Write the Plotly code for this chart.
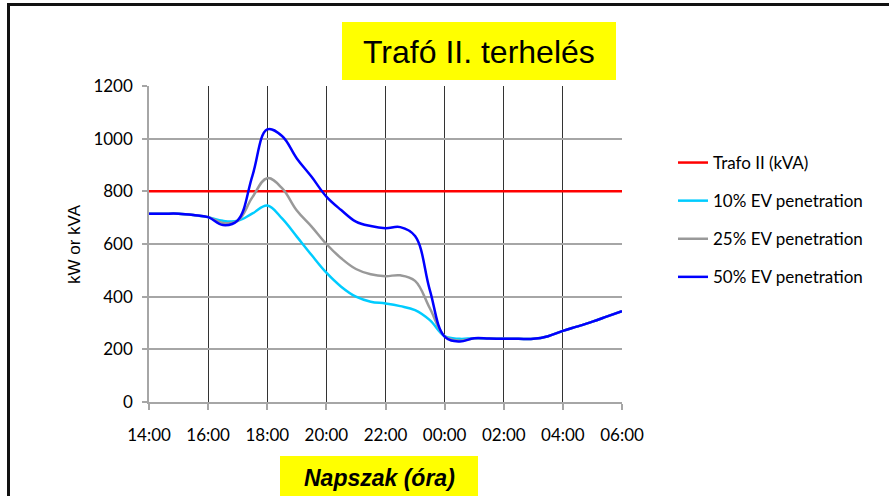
import plotly.graph_objects as go

# Time of day in hours from 14:00 (values past 24 belong to the next morning)
hours = [14.0, 14.5, 15.0, 15.5, 16.0, 16.5, 17.0, 17.5, 18.0, 18.5, 19.0,
         19.5, 20.0, 20.5, 21.0, 21.5, 22.0, 22.5, 23.0, 23.5, 24.0, 24.5,
         25.0, 25.5, 26.0, 26.5, 27.0, 27.5, 28.0, 28.5, 29.0, 29.5, 30.0]

tick_hours = [14, 16, 18, 20, 22, 24, 26, 28, 30]
tick_labels = ["14:00", "16:00", "18:00", "20:00", "22:00",
               "00:00", "02:00", "04:00", "06:00"]

# Transformer rating (kVA)
trafo_hours = [14.0, 30.0]
trafo_kva = [800, 800]

# Load for different EV penetration levels (kW)
ev10 = [715, 715, 715, 710, 702, 688, 688, 716, 746, 697, 628,
        558, 491, 438, 400, 381, 374, 364, 349, 311, 250, 240,
        242, 241, 240, 240, 240, 250, 270, 287, 305, 325, 345]
ev25 = [715, 715, 715, 710, 702, 680, 688, 778, 850, 812, 727,
        666, 600, 546, 505, 485, 478, 481, 460, 356, 250, 233,
        242, 241, 240, 240, 240, 250, 270, 287, 305, 325, 345]
ev50 = [715, 715, 715, 710, 702, 672, 690, 860, 1035, 1010, 925,
        855, 780, 729, 685, 668, 660, 664, 630, 425, 248, 230,
        242, 241, 240, 240, 240, 250, 270, 287, 305, 325, 345]

W, H = 889, 496
L, R, T, B = 149, 267, 86, 94
PW, PH = W - L - R, H - T - B


def px(x):
    return (x - L) / PW


def py(y):
    return (H - B - y) / PH


fig = go.Figure()

series = [
    ("Trafo II (kVA)", trafo_hours, trafo_kva, "#ff0000", "linear"),
    ("10% EV penetration", hours, ev10, "#00ccff", "spline"),
    ("25% EV penetration", hours, ev25, "#999999", "spline"),
    ("50% EV penetration", hours, ev50, "#0000ff", "spline"),
]
for i, (name, xs, ys, color, shape) in enumerate(series):
    fig.add_trace(go.Scatter(
        x=xs, y=ys, name=name, mode="lines",
        line=dict(color=color, width=2.5, shape=shape, smoothing=1.1),
        legendgroup=f"g{i}",
    ))

tick_font = dict(family="Lato, sans-serif", size=17, color="#000000")

fig.update_xaxes(
    range=[14, 30], tickvals=tick_hours, ticktext=tick_labels,
    showgrid=True, gridcolor="#333333", gridwidth=1,
    showline=True, linecolor="#a6a6a6", linewidth=1.5,
    ticks="outside", ticklen=6, tickcolor="#a6a6a6", tickwidth=1.5,
    ticklabelstandoff=11, zeroline=False, tickfont=tick_font,
)
fig.update_yaxes(
    range=[0, 1200], tickvals=[0, 200, 400, 600, 800, 1000, 1200],
    showgrid=True, gridcolor="#a6a6a6", gridwidth=1.5,
    showline=True, linecolor="#a6a6a6", linewidth=1.5,
    ticks="outside", ticklen=5, tickcolor="#a6a6a6", tickwidth=1.5,
    ticklabelstandoff=6, zeroline=False, tickfont=tick_font,
)

shapes = [
    # outer frame
    dict(type="rect", xref="paper", yref="paper",
         x0=px(8.5), x1=px(W + 20), y0=py(H + 20), y1=py(4.5),
         line=dict(color="#111111", width=3), fillcolor="rgba(0,0,0,0)",
         layer="above"),
    # title box
    dict(type="rect", xref="paper", yref="paper",
         x0=px(342), x1=px(616), y0=py(80), y1=py(22),
         line=dict(width=0), fillcolor="#ffff00"),
    # x-axis title box
    dict(type="rect", xref="paper", yref="paper",
         x0=px(280), x1=px(478), y0=py(H + 10), y1=py(456),
         line=dict(width=0), fillcolor="#ffff00"),
]

annotations = [
    dict(text="Trafó II. terhelés", xref="paper", yref="paper",
         x=px(479), y=py(52), xanchor="center", yanchor="middle",
         showarrow=False,
         font=dict(family="Liberation Sans, Arial, sans-serif", size=32,
                   color="#000000")),
    dict(text="<b><i>Napszak (óra)</i></b>", xref="paper", yref="paper",
         x=px(379), y=py(478), xanchor="center", yanchor="middle",
         showarrow=False,
         font=dict(family="Liberation Sans, Arial, sans-serif", size=23,
                   color="#000000")),
    dict(text="kW or kVA", xref="paper", yref="paper",
         x=px(74), y=py(244), xanchor="center", yanchor="middle",
         textangle=-90, showarrow=False,
         font=dict(family="Liberation Sans, Arial, sans-serif", size=17,
                   color="#000000")),
]

fig.update_layout(
    width=W, height=H, autosize=False,
    margin=dict(l=L, r=R, t=T, b=B),
    paper_bgcolor="#ffffff", plot_bgcolor="#ffffff",
    shapes=shapes, annotations=annotations,
    showlegend=True,
    legend=dict(
        x=px(673), y=py(145), xanchor="left", yanchor="top",
        font=dict(family="Lato, sans-serif", size=17, color="#000000"),
        bgcolor="rgba(0,0,0,0)", tracegroupgap=13, itemwidth=30,
    ),
)

fig.write_html("out.html")
